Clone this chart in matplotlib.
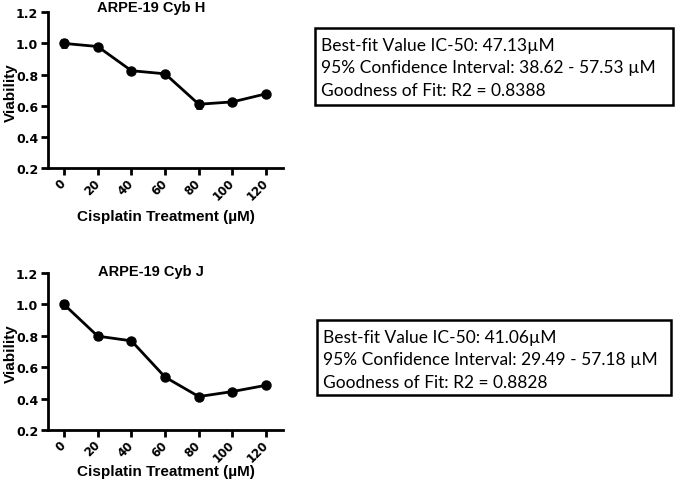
import matplotlib
matplotlib.use('Agg')
import matplotlib.pyplot as plt
from matplotlib.patches import Rectangle

# cisplatin doses (uM)
doses = [0, 20, 40, 60, 80, 100, 120]

# ARPE-19 Cyb H
via_h = [1.00, 0.98, 0.825, 0.805, 0.61, 0.625, 0.677]
err_h = [0.022, 0.008, 0.008, 0.008, 0.022, 0.008, 0.008]

# ARPE-19 Cyb J
via_j = [1.00, 0.798, 0.768, 0.537, 0.413, 0.445, 0.485]
err_j = [0.022, 0.02, 0.012, 0.008, 0.008, 0.008, 0.008]

titles = ['ARPE-19 Cyb H', 'ARPE-19 Cyb J']
fit_text = [
    ['Best-fit Value IC-50: 47.13\u00b5M',
     '95% Confidence Interval: 38.62 - 57.53 \u00b5M',
     'Goodness of Fit: R2 = 0.8388'],
    ['Best-fit Value IC-50: 41.06\u00b5M',
     '95% Confidence Interval: 29.49 - 57.18 \u00b5M',
     'Goodness of Fit: R2 = 0.8828'],
]

plt.rcParams['font.family'] = ['Liberation Sans', 'DejaVu Sans']

W, H = 680, 489
fig = plt.figure(figsize=(6.8, 4.89), dpi=100)

ax_pos = [[0.0706, 0.654, 0.3456, 0.319],
          [0.0706, 0.1186, 0.3456, 0.321]]
title_y = [8, 272]
xlab_y = [-0.308, -0.261]
box_pos = [[315, 29, 673, 106], [317, 321, 671, 396]]

for i, (vals, errs) in enumerate([(via_h, err_h), (via_j, err_j)]):
    ax = fig.add_axes(ax_pos[i])
    ax.errorbar(doses, vals, yerr=errs, color='black', lw=2, marker='o',
                ms=6.5, capsize=2.5, capthick=2, elinewidth=2)
    ax.set_xlim(-9.5, 130)
    ax.set_ylim(0.2, 1.2)
    ax.set_xticks(doses)
    ax.set_yticks([0.2, 0.4, 0.6, 0.8, 1.0, 1.2])
    ax.set_yticklabels(['0.2', '0.4', '0.6', '0.8', '1.0', '1.2'])
    for s in ['top', 'right']:
        ax.spines[s].set_visible(False)
    for s in ['left', 'bottom']:
        ax.spines[s].set_linewidth(2)
    ax.tick_params(width=2, length=5, pad=2)
    ax.tick_params(axis='x', pad=4)
    for lbl in ax.get_xticklabels() + ax.get_yticklabels():
        lbl.set_fontweight('bold')
        lbl.set_fontfamily('DejaVu Sans')
    plt.setp(ax.get_yticklabels(), fontsize=9)
    plt.setp(ax.get_xticklabels(), fontsize=8.5, rotation=45, ha='right', va='center',
             rotation_mode='anchor')
    ax.set_ylabel('Viability', fontsize=11, fontweight='bold', va='center')
    ax.yaxis.set_label_coords(-0.16, 0.49)
    ax.set_xlabel('Cisplatin Treatment (\u00b5M)', fontsize=11, fontweight='bold', va='center')
    ax.xaxis.set_label_coords(0.5, xlab_y[i])
    fig.text(151 / W, 1 - title_y[i] / H, titles[i], fontsize=10.5,
             fontweight='bold', ha='center', va='center')

    # fit summary box
    x0, y0, x1, y1 = box_pos[i]
    fig.patches.append(Rectangle((x0 / W, 1 - y1 / H), (x1 - x0) / W, (y1 - y0) / H,
                                 transform=fig.transFigure, fill=False,
                                 edgecolor='black', lw=1.8))
    for k, line in enumerate(fit_text[i]):
        fig.text((x0 + 6) / W, 1 - (y0 + 17 + 22.5 * k) / H, line,
                 fontsize=12.5, family=['Lato', 'DejaVu Sans'], va='center')

fig.savefig('out.png', dpi=100)
